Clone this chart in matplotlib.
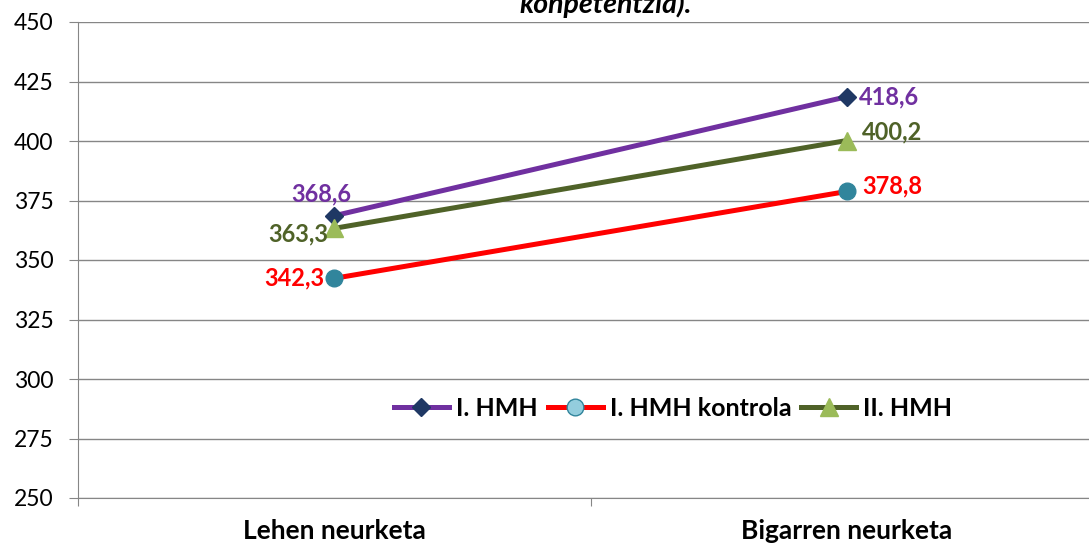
import matplotlib.pyplot as plt
from matplotlib.lines import Line2D

categories = ["Lehen neurketa", "Bigarren neurketa"]
series_names = ["I. HMH", "I. HMH kontrola", "II. HMH"]
hmh1 = [368.6, 418.6]
kontrola = [342.3, 378.8]
hmh2 = [363.3, 400.2]
y_ticks = [250, 275, 300, 325, 350, 375, 400, 425, 450]

plt.rcParams['font.family'] = ['Lato', 'DejaVu Sans']

fig = plt.figure(figsize=(10.89, 5.47), dpi=100)
# plot area spills past the right edge in the original
ax = fig.add_axes([78 / 1089, 49 / 547, 1025 / 1089, 476 / 547])

x = [0, 1]
styles = [
    (hmh1, '#7030A0', 'D', '#1F3864', '#1F3864', 9),
    (kontrola, '#FF0000', 'o', '#31859C', '#31859C', 12),
    (hmh2, '#4F6228', '^', '#9BBB59', '#9BBB59', 13),
]
for vals, lc, mk, mfc, mec, ms in styles:
    ax.plot(x, vals, color=lc, lw=3.6, marker=mk, markersize=ms,
            markerfacecolor=mfc, markeredgecolor=mec, zorder=3)

lab = dict(fontsize=17, fontweight='bold', textcoords='offset points', va='center')
fmt = lambda v: f"{v:.1f}".replace('.', ',')
ax.annotate(fmt(hmh1[0]), (0, hmh1[0]), xytext=(12, 16), ha='right', color='#7030A0', **lab)
ax.annotate(fmt(hmh2[0]), (0, hmh2[0]), xytext=(-4, -4), ha='right', color='#4F6228', **lab)
ax.annotate(fmt(kontrola[0]), (0, kontrola[0]), xytext=(-7, 0), ha='right', color='#FF0000', **lab)
ax.annotate(fmt(hmh1[1]), (1, hmh1[1]), xytext=(9, 0), ha='left', color='#7030A0', **lab)
ax.annotate(fmt(hmh2[1]), (1, hmh2[1]), xytext=(11, 6), ha='left', color='#4F6228', **lab)
ax.annotate(fmt(kontrola[1]), (1, kontrola[1]), xytext=(11, 4), ha='left', color='#FF0000', **lab)

ax.set_xlim(-0.5, 1.5)
ax.set_ylim(250, 450)
ax.set_yticks(y_ticks)
ax.set_yticklabels([str(t) for t in y_ticks], fontsize=16.5)
ax.set_xticks([-0.5, 0.5, 1.5], minor=False)
ax.set_xticklabels([])
ax.set_xticks(x, minor=True)
ax.set_xticklabels(categories, minor=True, fontsize=19, fontweight='bold')
ax.tick_params(axis='x', which='major', length=6, color='#868686')
ax.tick_params(axis='x', which='minor', length=0, pad=15)
ax.tick_params(axis='y', length=6.5, color='#868686', pad=11)
ax.yaxis.grid(True, color='#868686', lw=1)
ax.set_axisbelow(True)
for s in ['top', 'right']:
    ax.spines[s].set_visible(False)
for s in ['left', 'bottom']:
    ax.spines[s].set_color('#868686')

handles = [
    Line2D([], [], color='#7030A0', lw=3.6, marker='D', markersize=9,
           markerfacecolor='#1F3864', markeredgecolor='#1F3864'),
    Line2D([], [], color='#FF0000', lw=3.6, marker='o', markersize=12,
           markerfacecolor='#93CDDD', markeredgecolor='#31859C'),
    Line2D([], [], color='#4F6228', lw=3.6, marker='^', markersize=13,
           markerfacecolor='#9BBB59', markeredgecolor='#9BBB59'),
]
ax.legend(handles, series_names, loc='center', bbox_to_anchor=((673 - 78) / 1025, (498 - 408) / 476),
          ncol=3, frameon=False, handlelength=2.2, handletextpad=0.28, columnspacing=0.4,
          prop={'size': 18, 'weight': 'bold'})

fig.text(606 / 1089, 1 - 13 / 547, "konpetentzia).", ha='center', va='baseline', fontsize=20.5,
         fontweight='bold', style='italic')

fig.savefig("out.png", dpi=100)
